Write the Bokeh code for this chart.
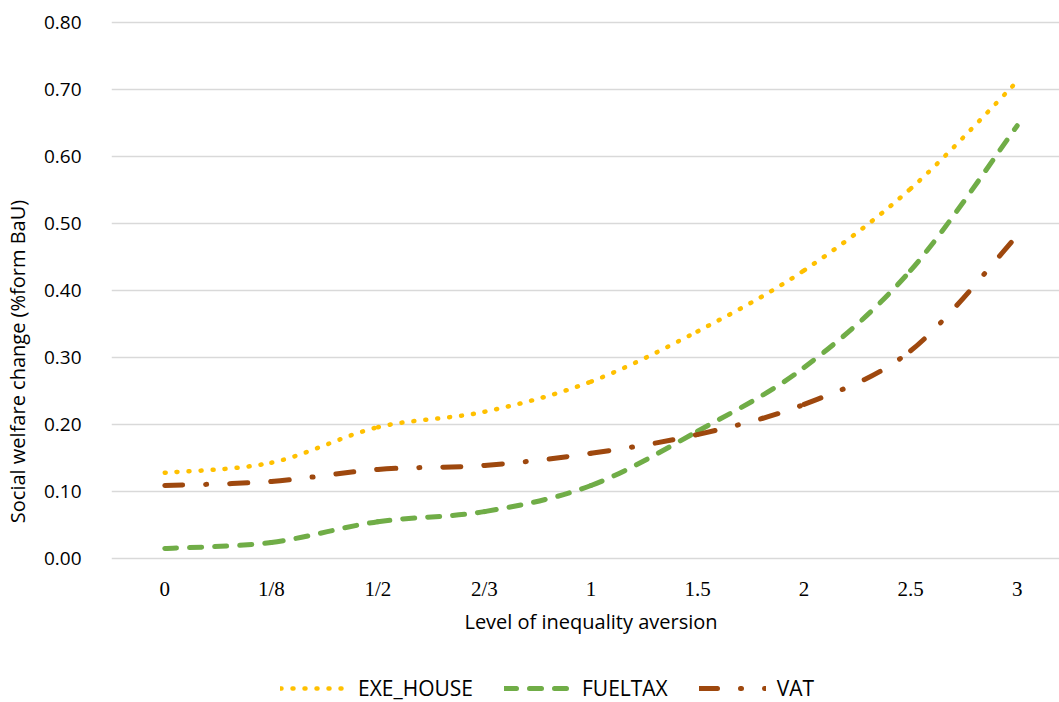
from bokeh.plotting import figure
from bokeh.models import (ColumnDataSource, FixedTicker, NumeralTickFormatter,
                          Legend, LegendItem, Label, Range1d)
from bokeh.core.properties import value
from bokeh.embed import file_html
from bokeh.resources import INLINE

# Inequality-aversion levels (category axis) and welfare change per policy
levels = ["0", "1/8", "1/2", "2/3", "1", "1.5", "2", "2.5", "3"]
exe_house = [0.128, 0.143, 0.196, 0.219, 0.264, 0.339, 0.430, 0.552, 0.712]
fueltax = [0.015, 0.024, 0.055, 0.070, 0.109, 0.190, 0.285, 0.430, 0.646]
vat = [0.109, 0.115, 0.133, 0.139, 0.157, 0.185, 0.230, 0.310, 0.482]
y_ticks = [0.0, 0.1, 0.2, 0.3, 0.4, 0.5, 0.6, 0.7, 0.8]

SANS = "Open Sans"
SERIF = "Liberation Serif"


def smooth_segments(ys):
    """Cubic Bezier pieces (Catmull-Rom style) through the category points."""
    n = len(ys)
    pts = [(float(i), float(v)) for i, v in enumerate(ys)]
    d = {k: [] for k in ("x0", "y0", "x1", "y1", "cx0", "cy0", "cx1", "cy1")}
    for i in range(n - 1):
        p0 = pts[max(i - 1, 0)]
        p1 = pts[i]
        p2 = pts[i + 1]
        p3 = pts[min(i + 2, n - 1)]
        d["x0"].append(p1[0]); d["y0"].append(p1[1])
        d["x1"].append(p2[0]); d["y1"].append(p2[1])
        d["cx0"].append(p1[0] + (p2[0] - p0[0]) / 6.0)
        d["cy0"].append(p1[1] + (p2[1] - p0[1]) / 6.0)
        d["cx1"].append(p2[0] - (p3[0] - p1[0]) / 6.0)
        d["cy1"].append(p2[1] - (p3[1] - p1[1]) / 6.0)
    return ColumnDataSource(d)


# The plotting frame runs to the bottom edge; the category labels, the
# horizontal axis title and the legend sit below the zero line inside it.
p = figure(width=1059, height=702, output_backend="svg", toolbar_location=None,
           x_range=Range1d(-0.5, 8.397), y_range=Range1d(-0.2149, 0.803),
           x_axis_location=None,
           min_border_left=107, min_border_right=0, min_border_top=20,
           min_border_bottom=0)
p.outline_line_color = None
p.background_fill_color = "white"

series = [
    ("EXE_HOUSE", exe_house, "#FFC000", 4.5, "1 11"),
    ("FUELTAX", fueltax, "#70AD47", 5, "12 13"),
    ("VAT", vat, "#9E480E", 5, "18 23 1 23"),
]

items = []
for name, vals, color, lw, dash in series:
    r = p.bezier(x0="x0", y0="y0", x1="x1", y1="y1", cx0="cx0", cy0="cy0",
                 cx1="cx1", cy1="cy1", source=smooth_segments(vals),
                 line_color=color, line_width=lw, line_dash=dash,
                 line_cap="round")
    items.append(LegendItem(label=name, renderers=[r], index=0))

# Category labels under the zero line
p.text(x=list(range(len(levels))), y=[-0.0448] * len(levels), text=levels,
       text_font=value(SERIF), text_font_size="21px", text_color="#000000",
       text_align="center", text_baseline="middle")

p.add_layout(Label(x=4, y=-0.094, text="Level of inequality aversion",
                   text_font=SANS, text_font_size="20px", text_color="#000000",
                   text_align="center", text_baseline="middle"))

# Vertical axis
p.yaxis.ticker = FixedTicker(ticks=y_ticks)
p.yaxis.formatter = NumeralTickFormatter(format="0.00")
p.yaxis.major_label_text_font = SANS
p.yaxis.major_label_text_font_size = "19px"
p.yaxis.major_label_text_color = "#000000"
p.yaxis.major_label_standoff = 24
p.yaxis.axis_line_color = None
p.yaxis.major_tick_line_color = None
p.yaxis.minor_tick_line_color = None
p.yaxis.axis_label = "Social welfare change (%form BaU)"
p.yaxis.axis_label_text_font = SANS
p.yaxis.axis_label_text_font_size = "20px"
p.yaxis.axis_label_text_font_style = "normal"
p.yaxis.axis_label_text_color = "#000000"
p.yaxis.axis_label_standoff = 10

p.xgrid.grid_line_color = None
p.ygrid.ticker = FixedTicker(ticks=y_ticks)
p.ygrid.grid_line_color = "#D9D9D9"
p.ygrid.grid_line_width = 1.5

legend = Legend(items=items, orientation="horizontal", location=(169, 0),
                glyph_width=67, glyph_height=24, label_height=24,
                label_standoff=11, spacing=31, padding=0, margin=0,
                border_line_color=None, background_fill_alpha=0,
                label_text_font=SANS, label_text_font_size="21px",
                label_text_color="#000000")
p.add_layout(legend)

open("out.html", "w").write(file_html(p, INLINE))
